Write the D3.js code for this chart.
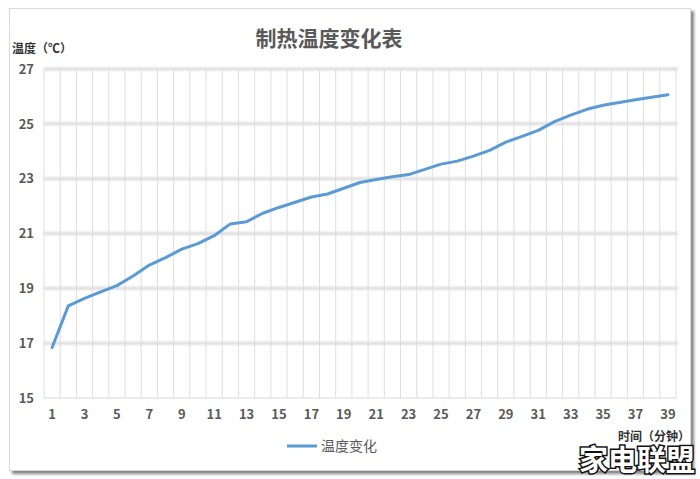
<!DOCTYPE html>
<html><head><meta charset="utf-8">
<script src="https://cdn.jsdelivr.net/npm/d3@7"></script>
<style>
html,body{margin:0;padding:0;background:#fff;}
svg{display:block;}
text{font-family:"Noto Sans CJK SC","Open Sans",sans-serif;}
</style></head>
<body>
<script>
const categories = d3.range(1, 40);
const temperatures = [16.84, 18.36, 18.63, 18.87, 19.1, 19.45, 19.85, 20.12, 20.43, 20.63, 20.92, 21.35, 21.43, 21.74, 21.95, 22.14, 22.33, 22.44, 22.65, 22.86, 22.97, 23.07, 23.15, 23.34, 23.53, 23.64, 23.82, 24.03, 24.33, 24.54, 24.76, 25.08, 25.32, 25.53, 25.68, 25.78, 25.88, 25.97, 26.06];
const yTicks = [15, 17, 19, 21, 23, 25, 27];
const xTickLabels = categories.filter(c => c % 2 === 1);
const title = "制热温度变化表";
const yLabel = "温度（℃）";
const xLabel = "时间（分钟）";
const seriesName = "温度变化";
const watermark = "家电联盟";

const W = 700, H = 479;
const svg = d3.select("body").append("svg").attr("width", W).attr("height", H);

const defs = svg.append("defs");
const f = defs.append("filter").attr("id","sh").attr("x","-5%").attr("y","-5%").attr("width","115%").attr("height","115%");
f.append("feDropShadow").attr("dx",3).attr("dy",3).attr("stdDeviation",1.5).attr("flood-color","#666").attr("flood-opacity",0.8);
const blur = defs.append("filter").attr("id","bl").attr("x","-5%").attr("y","-200%").attr("width","110%").attr("height","500%");
blur.append("feGaussianBlur").attr("stdDeviation",0.8);

// chart box
svg.append("rect").attr("x",9.5).attr("y",8.5).attr("width",681).attr("height",462)
  .attr("fill","#fff").attr("stroke","#d9d9d9").attr("filter","url(#sh)");

const pLeft = 44, pRight = 676, pTop = 69, pBottom = 398;
const x = d3.scaleBand().domain(categories).range([pLeft, pRight]).padding(0);
const y = d3.scaleLinear().domain([15, 27]).range([pBottom, pTop]);

// vertical gridlines at band boundaries
const bounds = categories.map(c => x(c)).concat([x(categories[categories.length-1]) + x.bandwidth()]);
svg.append("g").selectAll("line").data(bounds).join("line")
  .attr("x1", d => d).attr("x2", d => d).attr("y1", y(27)).attr("y2", y(15))
  .attr("stroke", "#dedede").attr("stroke-width", 1);

// horizontal gridlines
svg.append("g").attr("filter","url(#bl)").selectAll("line").data(yTicks.filter(t => t !== 15)).join("line")
  .attr("x1", pLeft).attr("x2", pRight + 2).attr("y1", d => y(d)).attr("y2", d => y(d))
  .attr("stroke", "#dcdcdc").attr("stroke-width", 3);
svg.append("line").attr("x1", pLeft).attr("x2", pRight).attr("y1", y(15)).attr("y2", y(15))
  .attr("stroke", "#d9d9d9").attr("stroke-width", 1);

// y axis
const yAxis = d3.axisLeft(y).tickValues(yTicks).tickSize(0).tickPadding(10);
const gy = svg.append("g").attr("transform", `translate(${pLeft},0)`).call(yAxis);
gy.select(".domain").remove();
gy.selectAll("text").attr("fill", "#595959").attr("font-size", 13).attr("font-weight", "bold")
  .attr("font-family", "'Open Sans','Noto Sans',sans-serif");

// x axis
const xAxis = d3.axisBottom(x).tickValues(xTickLabels).tickSize(0).tickPadding(12);
const gx = svg.append("g").attr("transform", `translate(0,${pBottom})`).call(xAxis);
gx.select(".domain").remove();
gx.selectAll("text").attr("fill", "#595959").attr("font-size", 13).attr("font-weight", "bold")
  .attr("font-family", "'Open Sans','Noto Sans',sans-serif");

// line
const line = d3.line().x((d, i) => x(categories[i]) + x.bandwidth() / 2).y(d => y(d));
svg.append("path").datum(temperatures).attr("d", line)
  .attr("fill", "none").attr("stroke", "#5b9bd5").attr("stroke-width", 3)
  .attr("stroke-linejoin", "round").attr("stroke-linecap", "round");

// title
svg.append("text").attr("x", 329).attr("y", 46).attr("text-anchor", "middle")
  .attr("font-size", 21).attr("font-weight", "bold").attr("fill", "#595959").text(title);

// axis titles
svg.append("text").attr("x", 12).attr("y", 53).attr("font-size", 12).attr("font-weight", "bold")
  .attr("fill", "#333").text(yLabel);
svg.append("text").attr("x", 690).attr("y", 441).attr("text-anchor", "end").attr("font-size", 12)
  .attr("font-weight", "bold").attr("fill", "#333").text(xLabel);

// legend
svg.append("line").attr("x1", 287).attr("x2", 317).attr("y1", 446).attr("y2", 446)
  .attr("stroke", "#5b9bd5").attr("stroke-width", 3);
svg.append("text").attr("x", 321).attr("y", 451).attr("font-size", 14).attr("fill", "#595959").text(seriesName);

// watermark
svg.append("text").attr("x", 695).attr("y", 471).attr("text-anchor", "end")
  .attr("font-size", 29).attr("font-weight", "bold").attr("fill", "#fff")
  .attr("stroke", "#111").attr("stroke-width", 3).attr("paint-order", "stroke")
  .text(watermark);
</script>
</body></html>
